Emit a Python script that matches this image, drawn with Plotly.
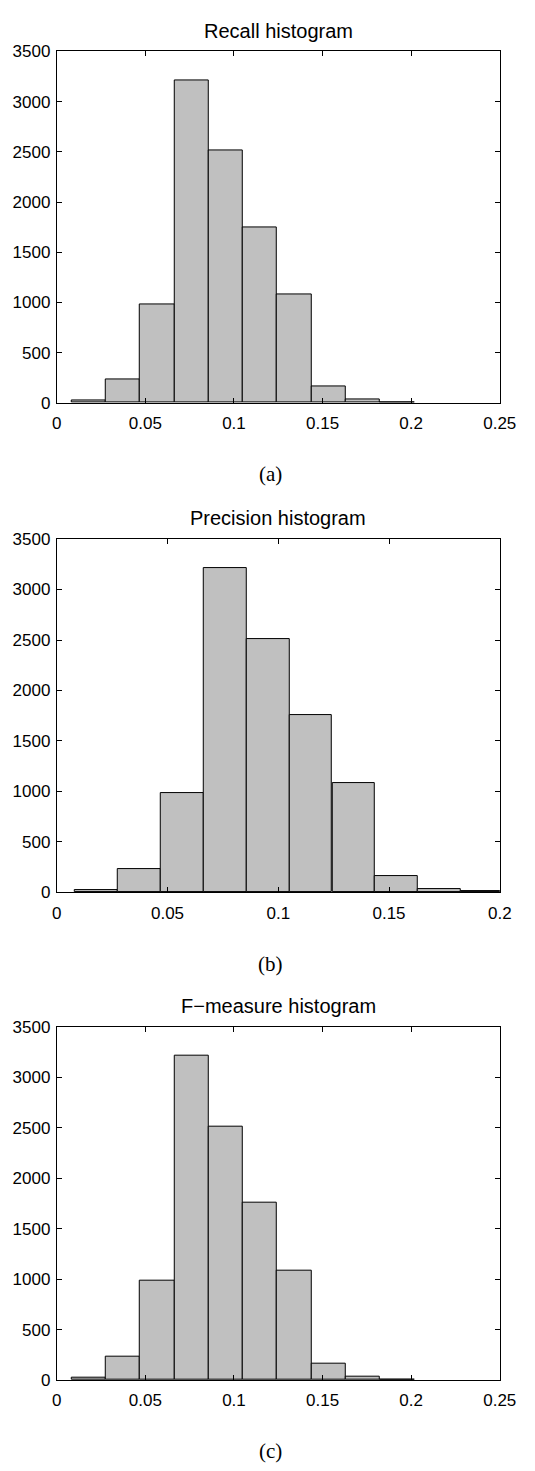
import plotly.graph_objects as go

# ---- data ----
bin_centers = [0.0180, 0.0373, 0.0567, 0.0760, 0.0954, 0.1147, 0.1341, 0.1534, 0.1728, 0.1921]
bin_width = 0.01935
recall_counts = [27, 235, 985, 3210, 2510, 1752, 1080, 165, 30, 8]
precision_counts = [27, 235, 985, 3210, 2510, 1752, 1080, 165, 30, 10]
fmeasure_counts = [27, 235, 985, 3210, 2510, 1752, 1080, 165, 30, 8]

titles = ["Recall histogram", "Precision histogram", "F\u2212measure histogram"]
captions = ["(a)", "(b)", "(c)"]
x_ranges = [[0, 0.25], [0, 0.2], [0, 0.25]]
y_ticks = [0, 500, 1000, 1500, 2000, 2500, 3000, 3500]

W, H = 535, 1471
# panel pixel boxes (left, right, top, bottom)
panels = [(54, 516, 43, 399), (54, 516, 537, 895), (54, 516, 1031, 1389)]

fig = go.Figure()
series = [recall_counts, precision_counts, fmeasure_counts]
for i, (counts, (l, r, t, b)) in enumerate(zip(series, panels)):
    xa = "x" if i == 0 else f"x{i+1}"
    ya = "y" if i == 0 else f"y{i+1}"
    fig.add_trace(go.Bar(
        x=bin_centers, y=counts, width=[bin_width] * len(bin_centers),
        marker=dict(color="#c0c0c0", line=dict(color="#000000", width=1)),
        xaxis=xa, yaxis=ya, showlegend=False, cliponaxis=True,
    ))
    axkey_x = "xaxis" if i == 0 else f"xaxis{i+1}"
    axkey_y = "yaxis" if i == 0 else f"yaxis{i+1}"
    common = dict(showline=True, linecolor="black", linewidth=1, mirror="ticks",
                  ticks="inside", ticklen=5, tickcolor="black", tickwidth=1,
                  showgrid=False, zeroline=False,
                  tickfont=dict(family="Liberation Sans, Arial", size=17, color="black"))
    fig.update_layout(**{
        axkey_x: dict(domain=[l / W, r / W], range=x_ranges[i], dtick=0.05, tick0=0,
                      anchor=ya, ticklabelstandoff=5, **common),
        axkey_y: dict(domain=[1 - b / H, 1 - t / H], range=[0, 3500],
                      tickvals=y_ticks, anchor=xa, ticklabelstandoff=2, **common),
    })
    fig.add_annotation(text=titles[i], xref="paper", yref="paper",
                       x=(l + r) / 2 / W, y=1 - (t - 21) / H, showarrow=False,
                       xanchor="center", yanchor="middle",
                       font=dict(family="Liberation Sans, Arial", size=20, color="black"))
    fig.add_annotation(text=captions[i], xref="paper", yref="paper",
                       x=277 / W, y=1 - (b + 72) / H, showarrow=False,
                       xanchor="center", yanchor="middle",
                       font=dict(family="Liberation Serif, Times New Roman", size=21, color="black"))

fig.update_layout(width=W, height=H, margin=dict(l=0, r=0, t=0, b=0),
                  paper_bgcolor="white", plot_bgcolor="white", bargap=0)
fig.write_html("out.html")
